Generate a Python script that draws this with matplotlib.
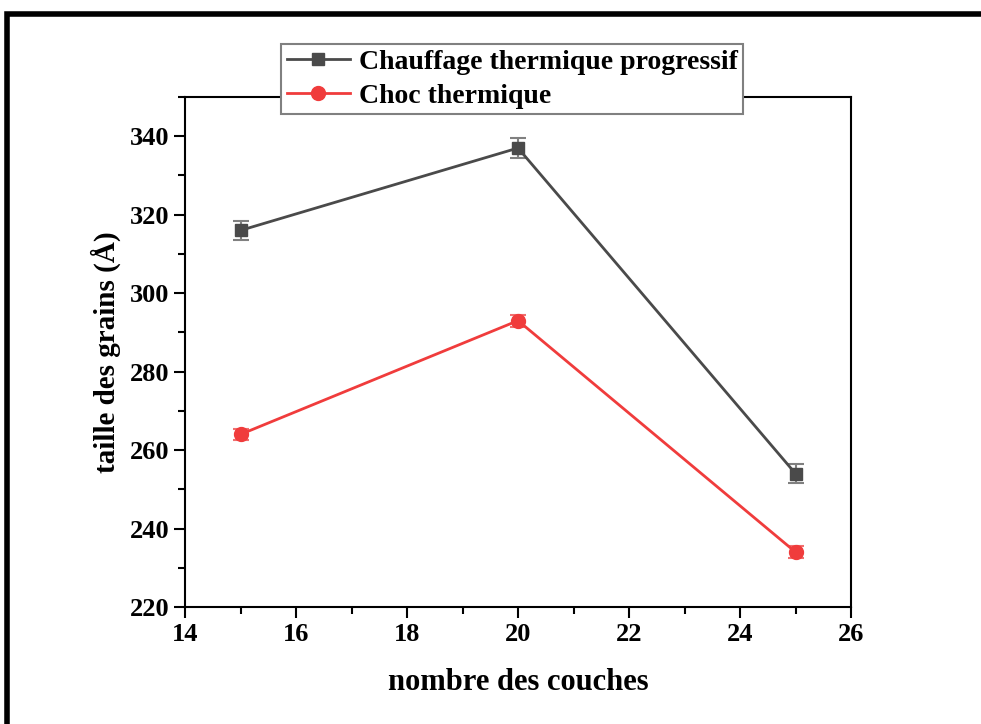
import matplotlib
matplotlib.use('Agg')
import matplotlib.pyplot as plt
from matplotlib.ticker import MultipleLocator
from matplotlib.patches import Rectangle
from matplotlib.lines import Line2D

plt.rcParams['font.family'] = ['Liberation Serif', 'DejaVu Serif']
plt.rcParams['font.weight'] = 'bold'

couches = [15, 20, 25]
chauffage = [316, 337, 254]
chauffage_err = [2.5, 2.5, 2.5]
choc = [264, 293, 234]
choc_err = [1.5, 1.5, 1.5]

gris = '#4a4a4a'
rouge = '#f03c3c'

fig = plt.figure(figsize=(9.81, 7.24), dpi=100)
ax = fig.add_axes([0.1886, 0.1616, 0.6789, 0.7044])

# cadre noir autour de la figure
fig.patches.append(Rectangle((0.0071, -0.05), 1.05, 1.0307, transform=fig.transFigure,
                             fill=False, edgecolor='black', linewidth=4, zorder=0))

ax.errorbar(couches, chauffage, yerr=chauffage_err, color=gris, marker='s', markersize=9,
            linewidth=2, ecolor='#808080', elinewidth=1.5, capsize=6, capthick=1.5)
ax.errorbar(couches, choc, yerr=choc_err, color=rouge, marker='o', markersize=10,
            linewidth=2, ecolor='#f07070', elinewidth=1.5, capsize=6, capthick=1.5)

ax.set_xlim(14, 26)
ax.set_ylim(220, 350)
ax.xaxis.set_major_locator(MultipleLocator(2))
ax.xaxis.set_minor_locator(MultipleLocator(1))
ax.yaxis.set_major_locator(MultipleLocator(20))
ax.yaxis.set_minor_locator(MultipleLocator(10))
ax.tick_params(which='major', direction='out', length=8, width=1.5, labelsize=19)
ax.tick_params(which='minor', direction='out', length=5, width=1.5)
for s in ax.spines.values():
    s.set_linewidth(1.5)

ax.set_xlabel('nombre des couches', fontsize=22, fontweight='bold', labelpad=16)
ax.set_ylabel('taille des grains (Å)', fontsize=21, fontweight='bold', labelpad=6)

handles = [Line2D([], [], color=gris, marker='s', markersize=9, linewidth=2),
           Line2D([], [], color=rouge, marker='o', markersize=10, linewidth=2)]
labels = ['Chauffage thermique progressif', 'Choc thermique']
leg = fig.legend(handles, labels, loc='upper left', bbox_to_anchor=(0.2864, 0.939), fontsize=20,
                 frameon=True, fancybox=False, edgecolor='#808080', handlelength=2.3,
                 borderpad=0.2, labelspacing=0.3, handletextpad=0.3, borderaxespad=0,
                 framealpha=1)
leg.get_frame().set_linewidth(1.5)

fig.savefig('out.png', dpi=100)
